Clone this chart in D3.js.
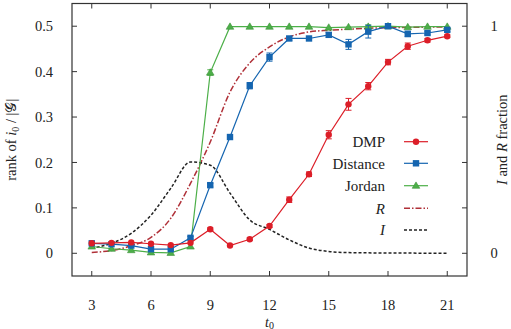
<!DOCTYPE html>
<html><head><meta charset="utf-8">
<script src="https://cdn.jsdelivr.net/npm/d3@7"></script>
<style>
html,body{margin:0;padding:0;background:#fff;}
</style></head>
<body>
<svg id="chart" width="511" height="329"></svg>
<script>
const tValues = [3,4,5,6,7,8,9,10,11,12,13,14,15,16,17,18,19,20,21];
const dmp      = [0.022,0.023,0.024,0.021,0.018,0.023,0.053,0.017,0.031,0.060,0.118,0.174,0.261,0.328,0.368,0.421,0.456,0.469,0.478];
const dmpErr   = [0.002,0.002,0.002,0.002,0.002,0.002,0.003,0.002,0.003,0.003,0.006,0.005,0.009,0.013,0.008,0.006,0.007,0.004,0.003];
const distance = [0.022,0.020,0.017,0.009,0.009,0.034,0.150,0.256,0.369,0.432,0.473,0.473,0.481,0.460,0.488,0.500,0.483,0.485,0.492];
const distErr  = [0.002,0.002,0.002,0.002,0.002,0.003,0.004,0.005,0.007,0.009,0.004,0.003,0.005,0.011,0.014,0.004,0.006,0.004,0.004];
const jordan   = [0.015,0.010,0.007,0.002,0.001,0.015,0.398,0.499,0.499,0.499,0.499,0.499,0.497,0.498,0.499,0.500,0.498,0.499,0.499];
const jordanErr= [0.002,0.002,0.002,0.002,0.002,0.002,0.006,0.002,0.002,0.002,0.002,0.002,0.002,0.002,0.004,0.002,0.002,0.002,0.002];
const fracR    = [0.004,0.012,0.033,0.070,0.154,0.308,0.490,0.710,0.838,0.909,0.953,0.975,0.982,0.987,0.991,0.993,0.995,0.996,0.996];
const fracI    = [0.022,0.044,0.088,0.168,0.286,0.402,0.388,0.265,0.147,0.105,0.059,0.023,0.008,0.003,0.002,0.001,0.001,0.000,0.000];
const xTicks = [3,6,9,12,15,18,21];
const yTicks = [0,0.1,0.2,0.3,0.4,0.5];
const yRTicks = [0,0.2,0.4,0.6,0.8,1];
const yRLabels = [0,1];
const legendNames = ["DMP","Distance","Jordan","R","I"];

const colors = {dmp:"#dc1e28", dist:"#1565b0", jor:"#4caf48", R:"#b03038", I:"#222"};
const FF = "Liberation Serif";

const svg = d3.select("#chart");
const L=72, R=467, T=3.5, B=276;
const x = d3.scaleLinear().domain([2,22]).range([L,R]);
const y = d3.scaleLinear().domain([-0.05,0.55]).range([B,T]);
const yR = d3.scaleLinear().domain([-0.1,1.1]).range([B,T]);
const tk = 5;
const axisColor = "#333";
const txtColor = "#222";
const FS = 14.5;

function txt(sel){ return sel.append("text").attr("font-family",FF).attr("fill",txtColor); }

// ticks
const g = svg.append("g").attr("stroke",axisColor).attr("stroke-width",1);
xTicks.forEach(v=>{
  g.append("line").attr("x1",x(v)).attr("x2",x(v)).attr("y1",B).attr("y2",B-tk);
  g.append("line").attr("x1",x(v)).attr("x2",x(v)).attr("y1",T).attr("y2",T+tk);
});
yTicks.forEach(v=>{
  g.append("line").attr("x1",L).attr("x2",L+tk).attr("y1",y(v)).attr("y2",y(v));
});
yRTicks.forEach(v=>{
  g.append("line").attr("x1",R).attr("x2",R-tk).attr("y1",yR(v)).attr("y2",yR(v));
});

// tick labels
xTicks.forEach(d=>{
  txt(svg).attr("x",x(d)).attr("y",310).attr("text-anchor","middle").attr("font-size",FS).text(d);
});
yTicks.forEach(d=>{
  txt(svg).attr("x",53).attr("y",y(d)).attr("dy","0.35em").attr("text-anchor","end").attr("font-size",FS).text(d===0?"0":d.toFixed(1));
});
yRLabels.forEach(d=>{
  txt(svg).attr("x",494).attr("y",yR(d)).attr("dy","0.35em").attr("text-anchor","middle").attr("font-size",FS).text(d);
});

// axis titles
const xl = txt(svg).attr("x",(L+R)/2).attr("y",326.5).attr("text-anchor","middle").attr("font-size",14);
xl.append("tspan").attr("font-style","italic").text("t");
xl.append("tspan").attr("font-size",10).attr("dy",2).text("0");

const yl = txt(svg).attr("transform",`translate(16,${(T+B)/2}) rotate(-90)`).attr("text-anchor","middle").attr("font-size",FS);
yl.append("tspan").text("rank of ");
yl.append("tspan").attr("font-style","italic").text("i");
yl.append("tspan").attr("font-size",10).attr("dy",3).text("0");
yl.append("tspan").attr("dy",-3).text(" / |");
yl.append("tspan").text("𝒢");
yl.append("tspan").text("|");

const yrl = txt(svg).attr("transform",`translate(507,${(T+B)/2}) rotate(-90)`).attr("text-anchor","middle").attr("font-size",FS);
yrl.append("tspan").attr("font-style","italic").text("I");
yrl.append("tspan").text(" and ");
yrl.append("tspan").attr("font-style","italic").text("R");
yrl.append("tspan").text(" fraction");

// curves R and I
const lineR = d3.line().x((d,i)=>x(tValues[i])).y(d=>yR(d)).curve(d3.curveMonotoneX);
svg.append("path").datum(fracR).attr("d",lineR).attr("fill","none").attr("stroke",colors.R).attr("stroke-width",1.5).attr("stroke-dasharray","6,2,1.5,2");
svg.append("path").datum(fracI).attr("d",lineR).attr("fill","none").attr("stroke",colors.I).attr("stroke-width",1.5).attr("stroke-dasharray","3,2");

// series
function marker(sel, type, cx, cy, col){
  if(type==="circle") sel.append("circle").attr("cx",cx).attr("cy",cy).attr("r",3.2).attr("fill",col);
  else if(type==="square") sel.append("rect").attr("x",cx-3.2).attr("y",cy-3.2).attr("width",6.4).attr("height",6.4).attr("fill",col);
  else sel.append("path").attr("d",`M${cx},${cy-3.8}L${cx+3.8},${cy+2.6}L${cx-3.8},${cy+2.6}Z`).attr("fill",col).attr("stroke",d3.color(col).darker(0.5)).attr("stroke-width",0.6);
}
const series = [
  {vals:jordan, err:jordanErr, col:colors.jor, m:"tri"},
  {vals:distance, err:distErr, col:colors.dist, m:"square"},
  {vals:dmp, err:dmpErr, col:colors.dmp, m:"circle"},
];
const line = d3.line().x((d,i)=>x(tValues[i])).y(d=>y(d));
series.forEach(s=>{
  const sg = svg.append("g");
  sg.append("path").datum(s.vals).attr("d",line).attr("fill","none").attr("stroke",s.col).attr("stroke-width",1.2);
  s.vals.forEach((v,i)=>{
    const cx=x(tValues[i]), e=s.err[i];
    const y1=y(v-e), y2=y(v+e);
    sg.append("line").attr("x1",cx).attr("x2",cx).attr("y1",y1).attr("y2",y2).attr("stroke",s.col).attr("stroke-width",1);
    if(y1-y2>2){
      sg.append("line").attr("x1",cx-3).attr("x2",cx+3).attr("y1",y1).attr("y2",y1).attr("stroke",s.col).attr("stroke-width",1);
      sg.append("line").attr("x1",cx-3).attr("x2",cx+3).attr("y1",y2).attr("y2",y2).attr("stroke",s.col).attr("stroke-width",1);
    }
    marker(sg, s.m, cx, y(v), s.col);
  });
});

// frame
svg.append("rect").attr("x",L).attr("y",T).attr("width",R-L).attr("height",B-T).attr("fill","none").attr("stroke",axisColor).attr("stroke-width",1.2);

// legend
const legY = [141.7,163.3,185.7,208.3,230];
const legendStyles = [
  {col:colors.dmp, m:"circle"},
  {col:colors.dist, m:"square"},
  {col:colors.jor, m:"tri"},
  {col:colors.R, dash:"6,2,1.5,2", w:1.5},
  {col:colors.I, dash:"3,2", w:1.5},
];
legendNames.forEach((n,i)=>{
  const t = txt(svg).attr("x",385).attr("y",legY[i]).attr("dy","0.35em").attr("text-anchor","end").attr("font-size",15).text(n);
  if(i>=3) t.attr("font-style","italic");
  const st = legendStyles[i];
  svg.append("line").attr("x1",404).attr("x2",428).attr("y1",legY[i]).attr("y2",legY[i]).attr("stroke",st.col)
    .attr("stroke-width",st.w||1.2).attr("stroke-dasharray",st.dash||null);
  if(st.m) marker(svg, st.m, 416, legY[i], st.col);
});
</script>
</body></html>
